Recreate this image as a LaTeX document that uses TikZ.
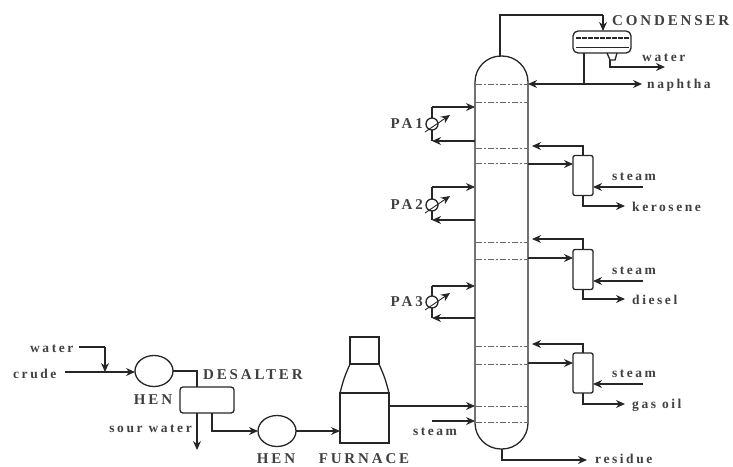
\documentclass[tikz,border=0pt]{standalone}
\usepackage{fontspec}
\newfontfamily\lblfont[LetterSpace=19]{Liberation Serif}
\usetikzlibrary{shapes.geometric,arrows.meta,positioning}

\begin{document}
\begin{tikzpicture}[
    x=1pt, y=-1pt,
    node distance=2pt,
    line/.style={draw=black!85, line width=1.3pt},
    flow/.style={line, -{Stealth[length=9pt,width=8pt]}},
    vessel/.style={rectangle, draw=black!85, line width=1.3pt, inner sep=0pt, outer sep=0pt},
    hen/.style={ellipse, draw=black!85, line width=1.3pt, inner sep=0pt, outer sep=0pt, minimum width=38pt, minimum height=31pt},
    cooler/.style={circle, draw=black!85, line width=1.3pt, inner sep=0pt, outer sep=0pt, minimum size=12pt},
    tray/.style={draw=black!60, line width=0.7pt, dash pattern=on 6pt off 2pt on 2pt off 2pt},
    lbl/.style={font=\lblfont\bfseries\fontsize{13.5}{14}\selectfont, text=black!75, inner sep=0pt},
    capslbl/.style={font=\lblfont\bfseries\fontsize{15}{16}\selectfont, text=black!75, inner sep=0pt}
]
    \useasboundingbox (0,0) rectangle (733,466);

    % Column
    \node[vessel, minimum width=53pt, minimum height=393pt, rounded corners=26pt] (column) at (501.5,252.5) {};
    \foreach \traypos in {84,102,148,163,242,259,346,364,406,422}
        \draw[tray] (476,\traypos) -- (527,\traypos);

    % Condenser
    \node[vessel, minimum width=58pt, minimum height=22pt, rounded corners=5pt] (condenser) at (602,42) {};
    \node[capslbl, anchor=west] (condenser_lbl) at (612,21) {CONDENSER};
    \draw[line, line width=2.2pt, dash pattern=on 5pt off 1pt] (576,38) -- (629,38);
    \draw[line, line width=0.9pt] (576,47) -- (629,47);
    \coordinate (top_bend) at (603,15);
    \coordinate (col_top) at (500,56.5);
    \coordinate (boot_l) at (607,53);
    \coordinate (boot_r) at (617,53);
    \coordinate (boot_b) at (610,60);
    \coordinate (boot_c) at (615,60);
    \coordinate (water_end) at (665,67);
    \coordinate (naph_l) at (528,84);
    \coordinate (naph_r) at (642,84);
    \coordinate (naph_tap) at (584,84);
    \node[lbl, anchor=west] (water_top) at (642,58) {water};
    \node[lbl, anchor=west] (naphtha) at (647,85) {naphtha};
    \draw[line] (col_top) -- (col_top |- top_bend) -- (top_bend);
    \draw[flow] (top_bend) -- (top_bend |- condenser.north);
    \draw[line] (boot_l) -- (boot_b) -- (boot_c) -- (boot_r);
    \draw[flow] (boot_b) |- (water_end);
    \draw[flow] (naph_tap) -- (naph_l);
    \draw[flow] (naph_tap) -- (naph_r);
    \draw[line] (naph_tap |- condenser.south) -- (naph_tap);

    % Pump-arounds
    \foreach \paname/\paytop/\payhx/\paybot in {PA1/107/124/141, PA2/187/205/220, PA3/286/302/318} {
        \node[cooler] (\paname_hx) at (432,\payhx) {};
        \node[capslbl, left=3pt of \paname_hx] (\paname_lbl) {\paname};
        \coordinate (\paname_tl) at (432,\paytop);
        \coordinate (\paname_tr) at (475,\paytop);
        \coordinate (\paname_bl) at (432,\paybot);
        \coordinate (\paname_br) at (475,\paybot);
        \coordinate (\paname_a) at (425,\payhx+8);
        \coordinate (\paname_b) at (450,\payhx-9);
        \draw[line] (\paname_hx) -- (\paname_tl);
        \draw[flow] (\paname_tl) -- (\paname_tr);
        \draw[line] (\paname_hx) -- (\paname_bl);
        \draw[flow] (\paname_br) -- (\paname_bl);
        \draw[flow, line width=0.9pt] (\paname_a) -- (\paname_b);
    }

    % Side strippers
    \foreach \stname/\sttext/\stcy/\strety/\stiny/\ststy/\stout in {
        one/kerosene/175.5/146/164/187/206,
        two/diesel/269.5/239/258/281/299,
        three/gas oil/373/344/363/384/404} {
        \node[vessel, minimum width=20pt, minimum height=40pt, rounded corners=2pt] (\stname_box) at (583,\stcy) {};
        \node[lbl, anchor=west] (\stname_lbl) at (632,\stout+1) {\sttext};
        \node[lbl] (\stname_steam) at (634,\ststy-10) {steam};
        \coordinate (\stname_ret) at (532,\strety);
        \coordinate (\stname_in) at (528,\stiny);
        \coordinate (\stname_st) at (643,\ststy);
        \coordinate (\stname_out) at (625,\stout);
        \draw[flow] (\stname_box.north) |- (\stname_ret);
        \draw[flow] (\stname_in) -- (\stname_in -| \stname_box.west);
        \draw[flow] (\stname_st) -- (\stname_st -| \stname_box.east);
        \draw[flow] (\stname_box.south) |- (\stname_out);
    }

    % Feed side
    \node[hen] (hen_one) at (154,371) {};
    \node[hen] (hen_two) at (277,431) {};
    \node[vessel, minimum width=54pt, minimum height=26pt, rounded corners=3pt] (desalter) at (207,400) {};
    \node[lbl, anchor=west] (water_lbl) at (30,349) {water};
    \node[lbl, anchor=west] (crude_lbl) at (13,374) {crude};
    \node[capslbl] (hen_one_lbl) at (153,400) {HEN};
    \node[capslbl] (hen_two_lbl) at (276,459) {HEN};
    \node[capslbl, anchor=west] (desalter_lbl) at (203,375) {DESALTER};
    \node[lbl, anchor=east] (sour_lbl) at (192,429) {sour water};
    \coordinate (water_start) at (79,347);
    \coordinate (water_bend) at (105,347);
    \coordinate (water_join) at (105,372);
    \coordinate (crude_start) at (65,372);
    \coordinate (sour_end) at (197,450);
    \coordinate (des_in) at (197,387);
    \coordinate (des_out) at (212,413);
    \draw[line] (water_start) -- (water_bend);
    \draw[flow] (water_bend) -- (water_join);
    \draw[flow] (crude_start) -- (hen_one.west |- crude_start);
    \draw[line] (hen_one.east) -| (des_in);
    \draw[flow] (des_in |- desalter.south) -- (sour_end);
    \draw[flow] (des_out) |- (hen_two.west);

    % Furnace
    \node[vessel, minimum width=49pt, minimum height=50pt] (firebox) at (364.5,418) {};
    \node[vessel, minimum width=29pt, minimum height=27pt] (stack) at (364.5,350.5) {};
    \node[capslbl] (furnace_lbl) at (364,459) {FURNACE};
    \draw[line] (firebox.north west) .. controls (344,378) .. (stack.south west);
    \draw[line] (firebox.north east) .. controls (385,378) .. (stack.south east);
    \draw[flow] (hen_two.east) -- (firebox.west |- hen_two.east);

    % Column feed and bottoms
    \coordinate (feed_end) at (475,406);
    \coordinate (steam_start) at (432,421);
    \coordinate (steam_end) at (475,421);
    \coordinate (res_end) at (587,460);
    \coordinate (col_bot) at (502,449);
    \node[lbl] (feed_steam) at (435,432) {steam};
    \node[lbl, anchor=west] (residue) at (595,459) {residue};
    \draw[flow] (firebox.east |- feed_end) -- (feed_end);
    \draw[flow] (steam_start) -- (steam_end);
    \draw[flow] (col_bot) |- (res_end);
\end{tikzpicture}
\end{document}
